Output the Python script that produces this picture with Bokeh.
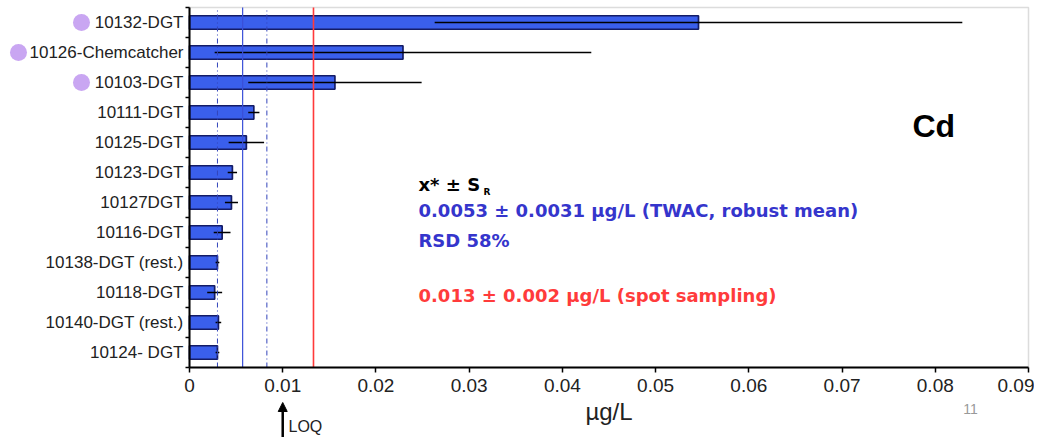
from bokeh.plotting import figure
from bokeh.models import (ColumnDataSource, Range1d, FixedTicker, Label,
                          BoxAnnotation, Arrow, NormalHead)
from bokeh.embed import file_html
from bokeh.resources import INLINE

# ---------------- data ----------------
samplers = ["10132-DGT", "10126-Chemcatcher", "10103-DGT", "10111-DGT", "10125-DGT",
            "10123-DGT", "10127DGT", "10116-DGT", "10138-DGT (rest.)", "10118-DGT",
            "10140-DGT (rest.)", "10124- DGT"]
twac = [0.0546, 0.0229, 0.0156, 0.0069, 0.0061, 0.0046, 0.0045, 0.0035, 0.0030,
        0.0027, 0.0031, 0.0030]
twac_err = [0.0283, 0.0202, 0.0093, 0.0006, 0.0019, 0.0005, 0.0007, 0.0009, 0.0002,
            0.0008, 0.0003, 0.0002]
flagged = ["10132-DGT", "10126-Chemcatcher", "10103-DGT"]

robust_mean = 0.0057
robust_low = 0.0030
robust_high = 0.0083
spot_value = 0.0133
loq = 0.01

x_ticks = [0, 0.01, 0.02, 0.03, 0.04, 0.05, 0.06, 0.07, 0.08, 0.09]
x_tick_labels = ["0", "0.01", "0.02", "0.03", "0.04", "0.05", "0.06", "0.07", "0.08", "0.09"]
x_max = 0.09

# ---------------- layout (pixels) ----------------
W, H = 1034, 437
PX_LEFT, PX_RIGHT = 189, 1028      # pixel of x=0 and x=x_max
PX_TOP, PX_BOTTOM = 7, 367         # pixel of top row edge and bottom row edge
n = len(samplers)
kx = (PX_RIGHT - PX_LEFT) / x_max
ky = (PX_BOTTOM - PX_TOP) / n
x_range = Range1d(-PX_LEFT / kx, (W - PX_LEFT) / kx)
y_range = Range1d(-(H - PX_BOTTOM) / ky, n + PX_TOP / ky)

ypos = [n - 0.5 - i for i in range(n)]

src = ColumnDataSource(dict(
    y=ypos, v=twac,
    lo=[v - e for v, e in zip(twac, twac_err)],
    hi=[v + e for v, e in zip(twac, twac_err)],
))

FONT = "Liberation Sans"
TXT = "DejaVu Sans"

p = figure(width=W, height=H, output_backend="svg", toolbar_location=None,
           x_range=x_range, y_range=y_range,
           min_border_left=0, min_border_right=0, min_border_top=0, min_border_bottom=0)
p.grid.visible = False
p.outline_line_color = None
p.background_fill_color = "white"
p.border_fill_color = "white"

# plot-area border (gray top/right)
p.add_layout(BoxAnnotation(left=0, right=x_max, bottom=0, top=n, fill_color=None,
                           line_color="#8a8a8a", line_width=1.5, level="underlay"))

# bars and error bars
p.hbar(y="y", right="v", left=0, height=0.45, source=src,
       fill_color="#3a5fec", line_color="#141c66", line_width=1.7)
p.segment(x0="lo", x1="hi", y0="y", y1="y", source=src,
          line_color="black", line_width=1.5)

# reference lines
for loc, col, dash, w in [(robust_low, "#3344bb", "5 3 1 3", 1),
                          (robust_mean, "#3a4fd8", "solid", 1.2),
                          (robust_high, "#3344bb", "5 3 1 3", 1),
                          (spot_value, "#ff3a3a", "solid", 1.6)]:
    p.segment(x0=[loc], x1=[loc], y0=[0], y1=[n], line_color=col,
              line_dash=dash, line_width=w)

# axes
p.xaxis.fixed_location = 0
p.xaxis.bounds = (0, x_max)
p.xaxis.ticker = FixedTicker(ticks=x_ticks)
p.xaxis.major_label_overrides = {float(t): l for t, l in zip(x_ticks, x_tick_labels)}
p.xaxis.major_tick_out = 5
p.xaxis.major_tick_in = 0
p.xaxis.minor_tick_line_color = None
p.xaxis.axis_line_width = 2
p.xaxis.axis_line_color = "black"
p.xaxis.major_tick_line_width = 1.5
p.xaxis.major_label_standoff = 6
p.xaxis.major_label_text_font = FONT
p.xaxis.major_label_text_font_size = "19px"
p.xaxis.major_label_text_color = "#222"
p.xaxis.axis_label = "µg/L"
p.xaxis.axis_label_text_font = FONT
p.xaxis.axis_label_text_font_size = "24px"
p.xaxis.axis_label_text_font_style = "normal"
p.xaxis.axis_label_text_color = "#222"
p.xaxis.axis_label_standoff = 3

p.yaxis.fixed_location = 0
p.yaxis.bounds = (0, n)
p.yaxis.ticker = FixedTicker(ticks=ypos, minor_ticks=list(range(n + 1)))
p.yaxis.major_label_overrides = {float(y): s for y, s in zip(ypos, samplers)}
p.yaxis.major_tick_out = 0
p.yaxis.major_tick_in = 0
p.yaxis.minor_tick_out = 4
p.yaxis.minor_tick_in = 0
p.yaxis.minor_tick_line_width = 1.5
p.yaxis.axis_line_width = 2
p.yaxis.axis_line_color = "black"
p.yaxis.major_label_standoff = 2
p.yaxis.major_label_text_font = FONT
p.yaxis.major_label_text_font_size = "17px"
p.yaxis.major_label_text_color = "#222"

# purple markers next to flagged labels
mk_y = [ypos[samplers.index(s)] for s in flagged]
mk_x = [(18 if len(s) > 12 else 81) - PX_LEFT for s in flagged]
p.scatter(x=[v / kx for v in mk_x], y=mk_y, size=17, marker="circle",
          fill_color="#c9a6f2", line_color=None)

# annotations
def tx(px):
    return (px - PX_LEFT) / kx

def ty(py):
    return (PX_BOTTOM - py) / ky

p.add_layout(Label(x=tx(418), y=ty(184), text="x* ± S", text_font=TXT, text_font_style="bold",
                   text_font_size="18px", text_color="black", text_baseline="middle"))
p.add_layout(Label(x=tx(483), y=ty(191), text="R", text_font=TXT, text_font_style="bold",
                   text_font_size="9px", text_color="black", text_baseline="middle"))
p.add_layout(Label(x=tx(418), y=ty(210), text="0.0053 ± 0.0031 µg/L (TWAC, robust mean)",
                   text_font=TXT, text_font_style="bold", text_font_size="18px",
                   text_color="#3535cc", text_baseline="middle"))
p.add_layout(Label(x=tx(418), y=ty(240), text="RSD 58%", text_font=TXT, text_font_style="bold",
                   text_font_size="18px", text_color="#3535cc", text_baseline="middle"))
p.add_layout(Label(x=tx(418), y=ty(295), text="0.013 ± 0.002 µg/L (spot sampling)",
                   text_font=TXT, text_font_style="bold", text_font_size="18px",
                   text_color="#ff3b3b", text_baseline="middle"))
p.add_layout(Label(x=tx(912), y=ty(125), text="Cd", text_font=FONT, text_font_style="bold",
                   text_font_size="32px", text_color="black", text_baseline="middle"))

p.add_layout(Arrow(end=NormalHead(size=9, fill_color="black", line_color="black"),
                   x_start=loq, y_start=ty(450), x_end=loq, y_end=ty(402),
                   line_width=2.5, line_color="black"))
p.add_layout(Label(x=tx(288), y=ty(426), text="LOQ", text_font=FONT, text_font_size="16px",
                   text_color="#222", text_baseline="middle"))
p.add_layout(Label(x=tx(970), y=ty(408), text="11", text_font=FONT, text_font_size="14px",
                   text_color="#999999", text_baseline="middle", text_align="center"))

open("out.html", "w").write(file_html(p, INLINE))
